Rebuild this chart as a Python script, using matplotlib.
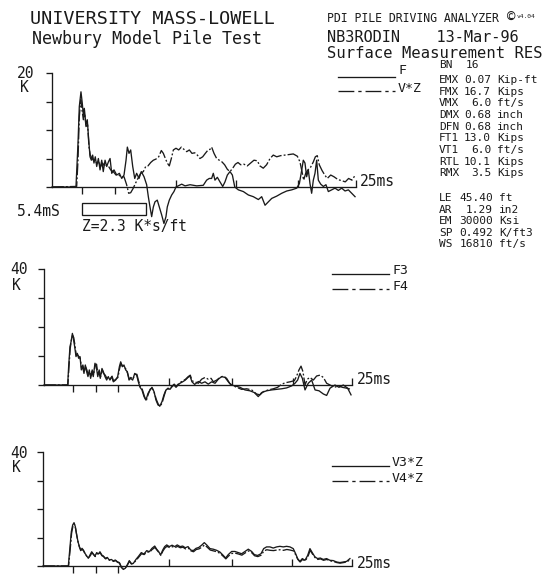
import matplotlib
matplotlib.use('Agg')
import matplotlib.pyplot as plt
from matplotlib.lines import Line2D
from matplotlib.patches import Rectangle

# ---------------- data (time in ms, force/velocity*Z in kips) ----------------
TMAX = 25.5

F1_t = [0, 2.01, 2.18, 2.29, 2.43, 2.54, 2.63, 2.71, 2.85, 2.96, 3.08, 3.19, 3.30, 3.41, 3.52, 3.63,
        3.75, 3.89, 4.03, 4.17, 4.30, 4.45, 4.59, 4.73, 4.87, 5.01, 5.20, 5.43, 5.65, 5.85, 6.04, 6.21,
        6.32, 6.46, 6.60, 6.77, 6.94, 7.10, 7.30, 7.49, 7.72, 7.94, 8.08, 8.22, 8.36, 8.50, 8.64, 8.83,
        9.00, 9.20, 9.39, 9.56, 9.67, 9.84, 10.04, 10.23, 10.40, 10.59, 10.88, 11.16, 11.58, 12.14, 12.69,
        12.97, 13.19, 13.39, 13.53, 13.67, 13.87, 14.09, 14.32, 14.51, 14.71, 14.93, 15.13, 15.33, 15.63,
        16.05, 16.47, 16.89, 17.31, 17.59, 17.87, 18.15, 18.43, 18.85, 19.27, 19.69, 20.11, 20.53, 20.75,
        20.95, 21.08, 21.22, 21.36, 21.50, 21.64, 21.78, 21.92, 22.06, 22.20, 22.34, 22.54, 22.76, 22.98,
        23.18, 23.46, 23.74, 24.02, 24.30, 24.58, 24.86, 25.14, 25.42]
F1_k = [0, 0, 7.6, 14.1, 16.7, 14.7, 12.6, 13.8, 10.9, 11.8, 8.2, 5.3, 4.7, 5.6, 4.2, 5.3,
        3.6, 5.0, 3.0, 4.7, 2.7, 4.7, 3.6, 4.4, 5.0, 2.4, 3.0, 2.1, 2.4, 1.5, 2.1, 4.7,
        7.0, 5.9, 6.5, 3.6, 1.5, 2.4, 1.5, 2.7, 1.8, 0.4, -1.7, -3.5, -5.2, -3.5, -2.6, -2.3,
        -3.5, -4.9, -6.4, -5.2, -3.5, -2.3, -1.4, -0.8, 0, 0.2, 0.5, 0.2, 0.4, 0.2, 0.3,
        1.2, 1.5, 1.5, 2.4, 1.2, 1.7, 0.9, 0.1, 0.9, 2.1, 2.7, 2.1, 0, -0.5,
        -0.8, -1.4, -1.7, -2.2, -1.7, -3.2, -2.6, -2.0, -1.6, -1.1, -0.7, -0.5, -0.2, 0.6,
        3.0, 4.7, 4.2, 1.8, 3.0, 0.6, -1.1, 1.2, 2.4, 4.7, 1.2, 0.5, 0.1, 0.4,
        -0.8, -0.5, -0.2, -0.6, -0.2, -0.7, -0.5, -1.1, -1.7]

V1_t = [0, 2.07, 2.18, 2.29, 2.41, 2.52, 2.63, 2.74, 2.85, 2.99, 3.10, 3.21, 3.36, 3.47, 3.61, 3.75,
        3.91, 4.08, 4.25, 4.42, 4.59, 4.75, 4.92, 5.14, 5.37, 5.59, 5.81, 6.04, 6.26, 6.43, 6.60, 6.82,
        6.99, 7.21, 7.44, 7.66, 7.86, 8.05, 8.28, 8.50, 8.72, 8.95, 9.17, 9.34, 9.51, 9.67, 9.84, 10.01,
        10.18, 10.40, 10.63, 10.85, 11.07, 11.30, 11.52, 11.74, 11.97, 12.19, 12.41, 12.64, 12.86, 13.09,
        13.25, 13.39, 13.59, 13.81, 14.03, 14.26, 14.48, 14.71, 14.93, 15.16, 15.38, 15.60, 15.83, 16.10,
        16.38, 16.66, 16.94, 17.22, 17.44, 17.72, 18.00, 18.29, 18.56, 18.85, 19.18, 19.54, 19.91, 20.24,
        20.58, 20.80, 20.97, 21.11, 21.28, 21.47, 21.70, 21.92, 22.09, 22.25, 22.42, 22.65, 22.88, 23.09,
        23.38, 23.65, 23.99, 24.32, 24.60, 24.88, 25.16, 25.44]
V1_k = [0, 0.1, 4.7, 12.3, 15.3, 13.5, 11.8, 12.9, 10.6, 10.9, 7.1, 5.6, 5.0, 4.7, 4.7, 4.2,
        4.4, 3.6, 4.2, 3.6, 3.9, 3.6, 3.0, 2.7, 2.1, 2.1, 1.8, 1.8, 0.4, -1.1, -1.0, -0.2,
        0.6, 1.5, 2.4, 2.7, 3.6, 3.7, 4.3, 4.7, 4.9, 5.3, 6.4, 5.9, 5.0, 4.2, 3.7, 5.0,
        6.5, 6.8, 6.5, 7.0, 6.6, 6.2, 6.5, 5.9, 6.0, 5.6, 5.0, 5.3, 5.9, 6.5,
        6.6, 7.0, 5.9, 5.0, 4.7, 4.4, 3.9, 3.1, 2.7, 3.3, 4.0, 4.3, 3.9, 4.0,
        3.7, 4.2, 4.7, 4.6, 3.7, 3.3, 3.9, 5.0, 5.6, 5.3, 5.5, 5.6, 5.7, 5.8,
        5.4, 4.4, 2.7, 1.2, 2.4, 3.0, 3.5, 4.4, 5.3, 5.5, 3.9, 2.9, 2.1, 1.5,
        2.1, 1.8, 1.3, 1.1, 0.9, 1.5, 1.2, 2.1]

F3_t = [0, 1.96, 2.04, 2.15, 2.24, 2.35, 2.43, 2.54, 2.65, 2.76, 2.87, 2.98, 3.09, 3.20, 3.31, 3.42,
        3.53, 3.64, 3.75, 3.86, 3.97, 4.08, 4.22, 4.33, 4.45, 4.55, 4.66, 4.80, 4.91, 5.05, 5.19, 5.32,
        5.46, 5.60, 5.74, 5.93, 6.10, 6.24, 6.35, 6.48, 6.62, 6.76, 6.90, 7.04, 7.17, 7.34, 7.51, 7.67,
        7.81, 7.95, 8.11, 8.28, 8.44, 8.61, 8.78, 8.94, 9.11, 9.27, 9.44, 9.60, 9.77, 9.93, 10.10, 10.27,
        10.43, 10.60, 10.76, 10.93, 11.09, 11.26, 11.48, 11.70, 11.92, 12.09, 12.25, 12.47, 12.78, 13.05,
        13.33, 13.60, 13.88, 14.16, 14.43, 14.71, 14.99, 15.26, 15.48, 15.81, 16.23, 16.64, 17.05, 17.41,
        17.74, 18.02, 18.43, 18.85, 19.26, 19.68, 20.09, 20.51, 20.78, 21.00, 21.19, 21.39, 21.61, 21.88,
        22.16, 22.44, 22.77, 23.13, 23.40, 23.68, 24.09, 24.42, 24.78, 25.14, 25.42]
F3_k = [0, 0, 6.3, 13.2, 14.9, 17.8, 16.1, 13.2, 9.8, 10.9, 9.2, 9.8, 5.2, 6.3, 4.0, 6.9,
        4.6, 2.9, 5.2, 2.3, 4.6, 2.9, 7.5, 6.3, 2.9, 4.6, 2.3, 5.7, 4.6, 2.9, 1.7, 2.9,
        1.7, 2.9, 1.1, 1.7, 2.9, 6.3, 8.0, 6.3, 6.9, 5.2, 4.6, 1.7, 2.3, 1.7, 4.0, 3.4,
        1.1, -0.8, -1.7, -4.0, -5.2, -2.9, -1.7, -0.8, -2.3, -5.2, -6.9, -7.2, -5.7, -3.4, -1.7, -1.1,
        -1.5, -0.6, 0, -0.8, 0, 0.6, 1.1, 1.7, 2.6, 3.1, 1.1, 0.2, 1.2, 0.6,
        1.1, 0.3, 1.1, 0.6, 2.0, 2.9, 2.6, 1.1, 0, -0.3, -0.8, -1.7, -2.0, -2.6,
        -4.0, -2.6, -2.0, -1.7, -1.5, -1.3, -1.0, -0.3, 0.6, 1.7, 4.0, 2.3, -1.7, 0.6,
        1.7, -1.7, -2.0, -3.1, -3.6, -1.1, 0, -0.8, 0, -1.1, -3.4]

F4_t = [0, 1.98, 2.06, 2.17, 2.27, 2.37, 2.46, 2.56, 2.67, 2.78, 2.89, 3.00, 3.11, 3.22, 3.33, 3.44,
        3.55, 3.66, 3.77, 3.88, 3.99, 4.10, 4.24, 4.35, 4.47, 4.57, 4.68, 4.82, 4.93, 5.07, 5.21, 5.34,
        5.48, 5.62, 5.76, 5.95, 6.12, 6.26, 6.37, 6.50, 6.64, 6.78, 6.92, 7.06, 7.19, 7.36, 7.53, 7.69,
        7.83, 7.97, 8.13, 8.30, 8.46, 8.63, 8.80, 8.96, 9.13, 9.29, 9.46, 9.62, 9.79, 9.95, 10.12, 10.29,
        10.45, 10.62, 10.78, 10.95, 11.11, 11.28, 11.50, 11.72, 11.94, 12.11, 12.27, 12.50, 12.78, 13.05,
        13.33, 13.60, 13.83, 14.02, 14.30, 14.57, 14.85, 15.12, 15.37, 15.59, 15.95, 16.36, 16.78, 17.19,
        17.60, 17.88, 18.16, 18.57, 18.99, 19.34, 19.68, 20.01, 20.37, 20.73, 20.92, 21.11, 21.28, 21.44,
        21.61, 21.80, 22.02, 22.30, 22.57, 22.85, 23.13, 23.40, 23.68, 24.04, 24.37, 24.70, 25.06, 25.42]
F4_k = [0, 0, 5.8, 12.6, 15.5, 17.2, 16.4, 13.8, 10.3, 10.4, 9.8, 9.2, 5.8, 6.9, 4.6, 6.3,
        5.2, 3.4, 4.6, 2.9, 5.2, 3.4, 6.9, 7.2, 3.4, 5.2, 2.9, 5.2, 4.0, 3.4, 2.3, 2.6,
        2.0, 3.2, 1.4, 2.0, 2.6, 5.7, 7.5, 6.6, 6.3, 5.5, 4.0, 2.0, 2.6, 2.0, 3.7, 3.7,
        1.4, -0.5, -1.4, -3.7, -5.5, -3.2, -1.4, -1.1, -2.6, -4.9, -6.6, -7.5, -6.0, -3.7, -1.4, -1.4,
        -1.1, -0.3, 0.3, -0.5, 0.3, 0.9, 1.4, 2.0, 2.9, 3.4, 1.4, 1.1, 0.6, 2.0,
        2.6, 2.0, 2.3, 1.1, 1.7, 2.6, 3.1, 2.3, 0.6, -0.1, -0.8, -1.5, -1.3, -1.7,
        -3.1, -3.4, -2.3, -1.7, -1.3, -0.8, 0.3, 0.8, 1.1, 1.5, 3.1, 5.2, 6.5, 4.6,
        0, 2.0, 2.6, 1.7, 3.1, 3.4, 2.6, 0.6, 0, -0.8, -0.3, -0.8, -1.1, -1.5]

V3_t = [0, 2.09, 2.23, 2.34, 2.45, 2.56, 2.67, 2.78, 2.89, 3.00, 3.11, 3.22, 3.33, 3.47, 3.61, 3.74,
        3.88, 4.02, 4.15, 4.29, 4.43, 4.57, 4.70, 4.84, 4.98, 5.14, 5.31, 5.47, 5.64, 5.80, 5.97, 6.13,
        6.30, 6.46, 6.63, 6.79, 6.96, 7.12, 7.29, 7.45, 7.67, 7.90, 8.11, 8.33, 8.56, 8.77, 8.99, 9.22,
        9.38, 9.55, 9.71, 9.88, 10.04, 10.21, 10.42, 10.65, 10.87, 11.08, 11.31, 11.53, 11.74, 11.97, 12.19,
        12.40, 12.63, 12.85, 13.09, 13.31, 13.53, 13.78, 14.05, 14.33, 14.60, 14.88, 15.07, 15.29, 15.57,
        15.84, 16.12, 16.39, 16.67, 16.94, 17.22, 17.44, 17.71, 17.99, 18.21, 18.45, 18.73, 19.00, 19.28,
        19.55, 19.83, 20.10, 20.38, 20.65, 20.85, 21.01, 21.20, 21.40, 21.62, 21.84, 22.03, 22.22, 22.44,
        22.66, 22.88, 23.13, 23.40, 23.68, 23.95, 24.23, 24.50, 24.78, 25.05, 25.33]
V3_k = [0, 0, 6.8, 12.1, 14.4, 15.2, 13.8, 10.9, 8.5, 6.8, 5.4, 6.2, 5.6, 4.4, 3.5, 2.7,
        3.9, 5.0, 4.2, 3.5, 4.7, 4.2, 5.0, 3.9, 3.5, 2.7, 3.0, 2.1, 2.3, 1.8, 2.1, 1.5,
        1.2, -0.5, -1.2, -0.8, 0.4, 1.9, 0.7, 0.9, 2.3, 3.5, 4.7, 4.2, 5.4, 5.0, 6.2, 7.0,
        5.9, 5.0, 3.9, 5.6, 6.8, 7.4, 6.8, 7.3, 6.8, 7.4, 6.8, 7.0, 6.4, 6.8, 5.6,
        5.4, 6.2, 6.5, 7.3, 8.2, 7.3, 6.1, 5.9, 5.5, 4.9, 3.7, 2.8, 4.0, 5.1,
        5.1, 4.7, 4.3, 5.1, 5.9, 5.1, 4.0, 3.7, 4.3, 6.1, 6.7, 6.7, 6.3, 6.7,
        6.9, 6.7, 6.9, 6.7, 6.1, 4.3, 2.6, 1.6, 2.6, 2.0, 3.7, 6.1, 4.7, 3.2,
        2.6, 2.8, 2.3, 2.6, 2.0, 1.9, 1.4, 1.2, 1.4, 1.6, 2.6]

V4_t = [0, 2.11, 2.25, 2.36, 2.47, 2.58, 2.69, 2.80, 2.91, 3.02, 3.13, 3.24, 3.35, 3.49, 3.63, 3.76,
        3.90, 4.04, 4.17, 4.31, 4.45, 4.59, 4.72, 4.86, 5.00, 5.16, 5.33, 5.49, 5.66, 5.82, 5.99, 6.15,
        6.32, 6.48, 6.65, 6.81, 6.98, 7.14, 7.31, 7.47, 7.69, 7.92, 8.13, 8.35, 8.58, 8.79, 9.01, 9.24,
        9.40, 9.57, 9.73, 9.90, 10.06, 10.23, 10.44, 10.67, 10.89, 11.10, 11.33, 11.55, 11.76, 11.99, 12.21,
        12.42, 12.65, 12.87, 13.11, 13.33, 13.55, 13.80, 14.07, 14.35, 14.62, 14.90, 15.09, 15.31, 15.59,
        15.86, 16.14, 16.41, 16.69, 16.96, 17.24, 17.46, 17.73, 18.01, 18.23, 18.47, 18.75, 19.02, 19.30,
        19.57, 19.85, 20.12, 20.40, 20.67, 20.87, 21.03, 21.22, 21.42, 21.64, 21.86, 22.05, 22.24, 22.46,
        22.68, 22.90, 23.15, 23.42, 23.70, 23.97, 24.25, 24.52, 24.80, 25.07, 25.35]
V4_k = [0, 0, 6.1, 11.5, 14.0, 14.8, 13.1, 10.4, 8.1, 6.5, 5.6, 5.8, 5.3, 4.1, 3.3, 2.9,
        3.6, 4.7, 4.0, 3.3, 4.4, 4.0, 4.7, 3.6, 3.3, 2.5, 2.8, 2.0, 2.1, 1.6, 1.9, 1.3,
        1.0, -0.4, -1.0, -0.6, 0.5, 1.6, 0.8, 1.0, 2.0, 3.2, 4.3, 4.0, 5.0, 4.8, 5.8, 6.5,
        5.6, 4.7, 3.7, 5.3, 6.3, 6.9, 6.5, 6.8, 6.4, 6.9, 6.4, 6.6, 6.0, 6.3, 5.3,
        5.0, 5.8, 6.0, 6.6, 7.4, 6.6, 5.6, 5.3, 5.0, 4.4, 3.3, 2.5, 3.5, 4.4,
        4.5, 4.2, 3.8, 4.6, 5.3, 4.6, 3.6, 3.3, 3.8, 5.3, 5.7, 5.5, 5.4, 5.6,
        5.7, 5.5, 5.8, 5.6, 5.3, 3.8, 2.3, 1.4, 2.3, 1.8, 3.3, 5.5, 4.2, 2.9,
        2.3, 2.5, 2.0, 2.3, 1.8, 1.6, 1.2, 1.0, 1.2, 1.4, 2.3]

STATS_LABELS = ["EMX", "FMX", "VMX", "DMX", "DFN", "FT1", "VT1", "RTL", "RMX"]
STATS_VALUES = ["0.07", "16.7", "6.0", "0.68", "0.68", "13.0", "6.0", "10.1", "3.5"]
STATS_UNITS = ["Kip-ft", "Kips", "ft/s", "inch", "inch", "Kips", "ft/s", "Kips", "Kips"]
PILE_LABELS = ["LE", "AR", "EM", "SP", "WS"]
PILE_VALUES = ["45.40", "1.29", "30000", "0.492", "16810"]
PILE_UNITS = ["ft", "in2", "Ksi", "K/ft3", "ft/s"]

# ---------------- figure ----------------
W, H = 550, 585
fig = plt.figure(figsize=(5.5, 5.85), dpi=100)
fig.patch.set_facecolor('white')
INK = '#1a1a1a'
MONO = 'DejaVu Sans Mono'
LW = 0.95
DASH_TRACE = (0, (9, 1.6, 1.4, 1.6))
DASH_LEG = (0, (12, 3, 2.5, 3))


def ftext(x, y, s, size, ha='left', va='center', **kw):
    fig.text(x / W, 1 - y / H, s, fontsize=size, family=MONO, color=INK,
             ha=ha, va=va, **kw)


def fline(x1, x2, y, ls='-'):
    fig.add_artist(Line2D([x1 / W, x2 / W], [1 - y / H, 1 - y / H],
                          transform=fig.transFigure, color=INK, lw=LW, linestyle=ls))


def panel(l, r, top, zero, ymax, ymin, yticks, below, above):
    sc = (zero - top) / ymax
    bottom = zero + (-ymin) * sc
    ax = fig.add_axes([l / W, 1 - bottom / H, (r - l) / W, (bottom - top) / H])
    ax.set_xlim(0, TMAX)
    ax.set_ylim(ymin, ymax)
    ax.patch.set_alpha(0)
    for s in ['top', 'right']:
        ax.spines[s].set_visible(False)
    ax.spines['left'].set_bounds(0, ymax)
    ax.spines['left'].set_linewidth(LW)
    ax.spines['left'].set_color(INK)
    ax.spines['bottom'].set_position(('data', 0))
    ax.spines['bottom'].set_linewidth(LW)
    ax.spines['bottom'].set_color(INK)
    ax.set_yticks(yticks)
    ax.set_yticklabels([])
    ax.tick_params(axis='y', direction='out', length=4, width=LW, color=INK)
    ax.set_xticks(below)
    ax.set_xticks(above, minor=True)
    ax.set_xticklabels([])
    ax.tick_params(axis='x', which='major', direction='out', length=5, width=LW, color=INK)
    ax.tick_params(axis='x', which='minor', direction='in', length=5, width=LW, color=INK)
    return ax


# header
ftext(30, 19, "UNIVERSITY MASS-LOWELL", 13.3)
ftext(32, 39, "Newbury Model Pile Test", 12.0)
ftext(327, 19, "PDI PILE DRIVING ANALYZER", 8.3)
ftext(507, 18, "\u00a9", 10)
ftext(517, 16, "v4.04", 4.5)
ftext(327, 38, "NB3RODIN    13-Mar-96", 11.0)
ftext(327, 53, "Surface Measurement RES", 11.2)

# stats block
SFS = 8.0
ftext(439, 65, "BN", SFS)
ftext(466, 65, "16", SFS)
for i, (lab, val, unit) in enumerate(zip(STATS_LABELS, STATS_VALUES, STATS_UNITS)):
    y = 80 + i * 11.65
    ftext(439, y, lab, SFS)
    ftext(491, y, val, SFS, ha='right')
    ftext(497, y, unit, SFS)
for i, (lab, val, unit) in enumerate(zip(PILE_LABELS, PILE_VALUES, PILE_UNITS)):
    y = 198 + i * 11.6
    ftext(439, y, lab, SFS)
    ftext(493, y, val, SFS, ha='right')
    ftext(499, y, unit, SFS)

# ---- panel 1 ----
ax1 = panel(52, 356, 73, 187, 20, -8, [0, 5, 10, 15, 20], [2.52, 5.28], [5.28, 10.4, 15.4, 20.6, 25.5])
ax1.plot(F1_t, F1_k, color=INK, lw=LW, clip_on=False)
ax1.plot(V1_t, V1_k, color=INK, lw=LW, linestyle=DASH_TRACE, clip_on=False)
ax1.add_patch(Rectangle((2.52, -4.9), 5.4, 2.1, fill=False, ec=INK, lw=LW, clip_on=False))
ftext(17, 73, "20", 10.5)
ftext(20, 88, "K", 10.5)
ftext(360, 182, "25ms", 10.5)
ftext(17, 211, "5.4mS", 10.5)
ftext(82, 226, "Z=2.3 K*s/ft", 10.5)
fline(338, 395, 77)
ftext(398, 70, "F", 9.5)
fline(338, 395, 91, DASH_LEG)
ftext(398, 88, "V*Z", 9.5)

# ---- panel 2 ----
ax2 = panel(44, 352, 269, 385, 40, -10, [0, 10, 20, 30, 40], [2.40, 4.30, 6.13], [10.35, 15.56, 20.61, 25.5])
ax2.plot(F3_t, F3_k, color=INK, lw=LW, clip_on=False)
ax2.plot(F4_t, F4_k, color=INK, lw=LW, linestyle=DASH_TRACE, clip_on=False)
ftext(10, 270, "40", 10.5)
ftext(12, 285, "K", 10.5)
ftext(357, 380, "25ms", 10.5)
fline(332, 389, 274)
ftext(392, 270, "F3", 9.5)
fline(332, 389, 289, DASH_LEG)
ftext(392, 286, "F4", 9.5)

# ---- panel 3 ----
ax3 = panel(43, 352, 452, 566, 40, -5, [0, 10, 20, 30, 40], [2.45, 4.37, 6.21], [10.42, 15.57, 20.55, 25.5])
ax3.plot(V3_t, V3_k, color=INK, lw=LW, clip_on=False)
ax3.plot(V4_t, V4_k, color=INK, lw=LW, linestyle=DASH_TRACE, clip_on=False)
ftext(10, 453, "40", 10.5)
ftext(12, 468, "K", 10.5)
ftext(357, 563, "25ms", 10.5)
fline(332, 389, 466)
ftext(392, 462, "V3*Z", 9.5)
fline(332, 389, 481, DASH_LEG)
ftext(392, 478, "V4*Z", 9.5)

fig.savefig("out.png", dpi=100, facecolor='white')
